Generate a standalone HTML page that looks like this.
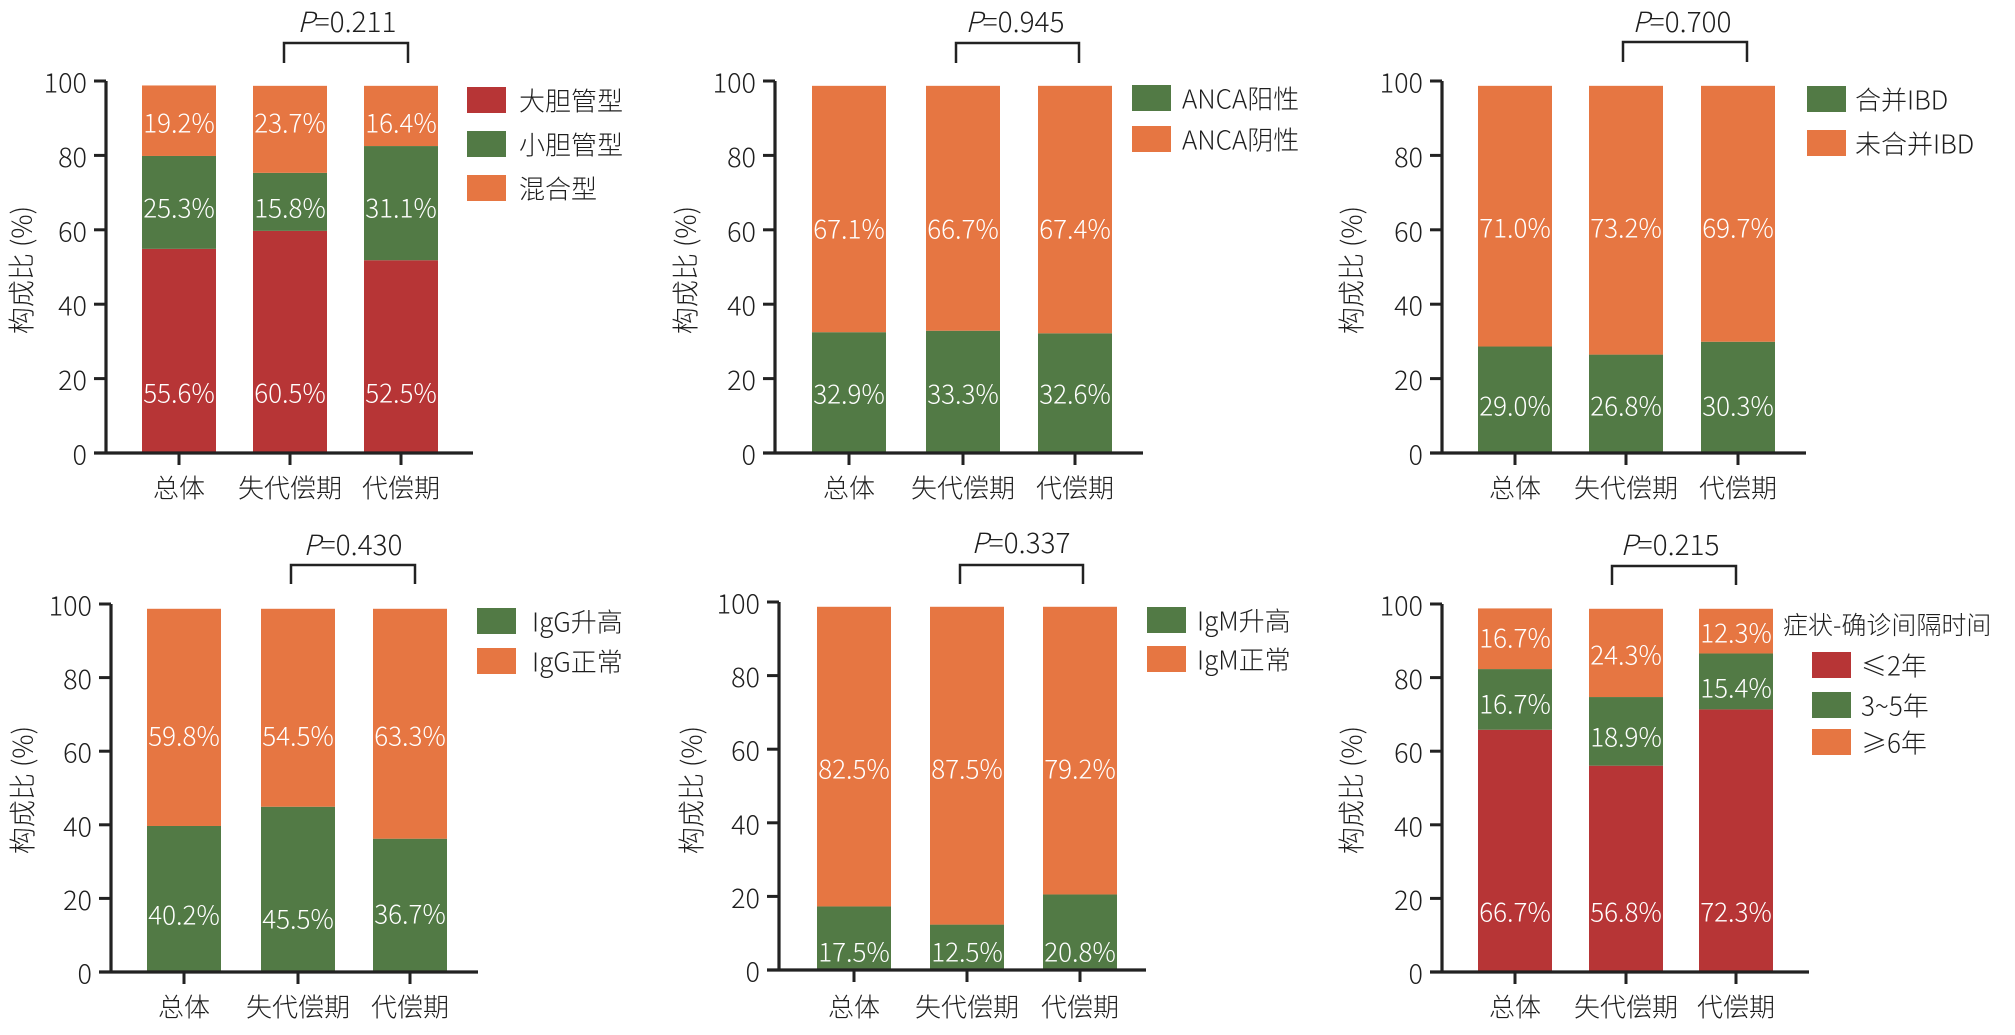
<!DOCTYPE html>
<html><head><meta charset="utf-8">
<style>
html,body{margin:0;padding:0;background:#fff;}
svg{display:block;}
text{font-family:"Noto Sans CJK SC","Liberation Sans",sans-serif;fill:#1e1e1e;font-weight:300;}
</style></head>
<body>
<svg id="s" xmlns="http://www.w3.org/2000/svg" width="2015" height="1035" viewBox="0 0 2015 1035"></svg>
<script>
const R='#b73536',G='#527a45',O='#e67642';
const panels=[
{ax:106,y0:453,y100:81,bars:[142,253,364],axR:473,br:[284,408,43,63],p:['0.211',347,32],
 leg:{bx:467,by:[87,131,175],lx:519,labels:['大胆管型','小胆管型','混合型'],colors:[R,G,O]},
 yt:[20,270],catY:487,
 seg:[[[55.6,R,392],[25.3,G,207],[19.2,O,122]],[[60.5,R,392],[15.8,G,207],[23.7,O,122]],[[52.5,R,392],[31.1,G,207],[16.4,O,122]]]},
{ax:775,y0:453,y100:81,bars:[812,926,1038],axR:1143,br:[956,1079,43,63],p:['0.945',1015,32],
 leg:{bx:1132,by:[85,126],lx:1182,labels:['ANCA阳性','ANCA阴性'],colors:[G,O]},
 yt:[684,270],catY:487,
 seg:[[[32.9,G,393],[67.1,O,228]],[[33.3,G,393],[66.7,O,228]],[[32.6,G,393],[67.4,O,228]]]},
{ax:1442,y0:453,y100:81,bars:[1478,1589,1701],axR:1806,br:[1623,1747,42,62],p:['0.700',1682,32],
 leg:{bx:1807,by:[86,130],lx:1855,labels:['合并IBD','未合并IBD'],colors:[G,O]},
 yt:[1350,270],catY:487,
 seg:[[[29.0,G,405],[71.0,O,227]],[[26.8,G,405],[73.2,O,227]],[[30.3,G,405],[69.7,O,227]]]},
{ax:111,y0:972,y100:604,bars:[147,261,373],axR:478,br:[291,415,565,584],p:['0.430',353,555],
 leg:{bx:477,by:[608,648],lx:532,labels:['IgG升高','IgG正常'],colors:[G,O]},
 yt:[21,790],catY:1006,
 seg:[[[40.2,G,914],[59.8,O,735]],[[45.5,G,918],[54.5,O,735]],[[36.7,G,913],[63.3,O,735]]]},
{ax:779,y0:970,y100:602,bars:[817,930,1043],axR:1146,br:[960,1083,565,584],p:['0.337',1021,553],
 leg:{bx:1147,by:[607,646],lx:1197,labels:['IgM升高','IgM正常'],colors:[G,O]},
 yt:[690,790],catY:1006,
 seg:[[[17.5,G,951],[82.5,O,768]],[[12.5,G,951],[87.5,O,768]],[[20.8,G,951],[79.2,O,768]]]},
{ax:1442,y0:972,y100:604,bars:[1478,1589,1699],axR:1809,br:[1612,1736,566,585],p:['0.215',1670,555],
 leg:{bx:1812,by:[652,692,729],lx:1861,labels:['≤2年','3~5年','≥6年'],colors:[R,G,O],title:['症状-确诊间隔时间',1783,624]},
 yt:[1350,790],catY:1006,
 seg:[[[66.7,R,911],[16.7,G,703],[16.7,O,637]],[[56.8,R,911],[18.9,G,736],[24.3,O,654]],[[72.3,R,911],[15.4,G,687],[12.3,O,632]]]}
];
const cats=['总体','失代偿期','代偿期'];
let h='';
const BW=74;
for(const P of panels){
  const k=(P.y0-P.y100)/100;
  P.bars.forEach((bx,i)=>{
    let cum=0;
    for(const [v,c,ly] of P.seg[i]){
      const yb=P.y0-cum*0.987*k; cum+=v; const yt=P.y0-cum*0.987*k;
      h+=`<rect x="${bx}" y="${yt}" width="${BW}" height="${yb-yt}" fill="${c}"/>`;
    }
    for(const [v,c,ly] of P.seg[i]){
      h+=`<text x="${bx+BW/2}" y="${ly}" font-size="26" text-anchor="middle" dominant-baseline="central" style="fill:#fff">${v.toFixed(1)}%</text>`;
    }
  });
  h+=`<line x1="${P.ax}" y1="${P.y100}" x2="${P.ax}" y2="${P.y0+1.5}" stroke="#222" stroke-width="3.2"/>`;
  h+=`<line x1="${P.ax-12}" y1="${P.y0}" x2="${P.axR}" y2="${P.y0}" stroke="#222" stroke-width="3.2"/>`;
  for(let t=0;t<=100;t+=20){
    const y=P.y0-t*k;
    h+=`<line x1="${P.ax-12}" y1="${y}" x2="${P.ax}" y2="${y}" stroke="#222" stroke-width="3"/>`;
    h+=`<text x="${P.ax-19}" y="${y}" font-size="27" text-anchor="end" dominant-baseline="central">${t}</text>`;
  }
  P.bars.forEach((bx,i)=>{
    const cx=bx+BW/2;
    h+=`<line x1="${cx}" y1="${P.y0}" x2="${cx}" y2="${P.y0+12}" stroke="#222" stroke-width="3"/>`;
    h+=`<text x="${cx}" y="${P.catY}" font-size="26" text-anchor="middle" dominant-baseline="central">${cats[i]}</text>`;
  });
  h+=`<text transform="translate(${P.yt[0]},${P.yt[1]}) rotate(-90)" font-size="27" text-anchor="middle" dominant-baseline="central">构成比 (%)</text>`;
  const [b1,b2,bt,bb]=P.br;
  h+=`<polyline points="${b1},${bb} ${b1},${bt} ${b2},${bt} ${b2},${bb}" fill="none" stroke="#222" stroke-width="2.5"/>`;
  h+=`<text x="${P.p[1]}" y="${P.p[2]}" font-size="28" text-anchor="middle"><tspan font-style="italic">P</tspan>=${P.p[0]}</text>`;
  const L=P.leg;
  if(L.title) h+=`<text x="${L.title[1]}" y="${L.title[2]}" font-size="25" dominant-baseline="central">${L.title[0]}</text>`;
  L.by.forEach((y,i)=>{
    h+=`<rect x="${L.bx}" y="${y}" width="39" height="26" fill="${L.colors[i]}"/>`;
    h+=`<text x="${L.lx}" y="${y+13}" font-size="26" dominant-baseline="central">${L.labels[i]}</text>`;
  });
}
document.getElementById('s').innerHTML=h;
</script>
</body></html>
